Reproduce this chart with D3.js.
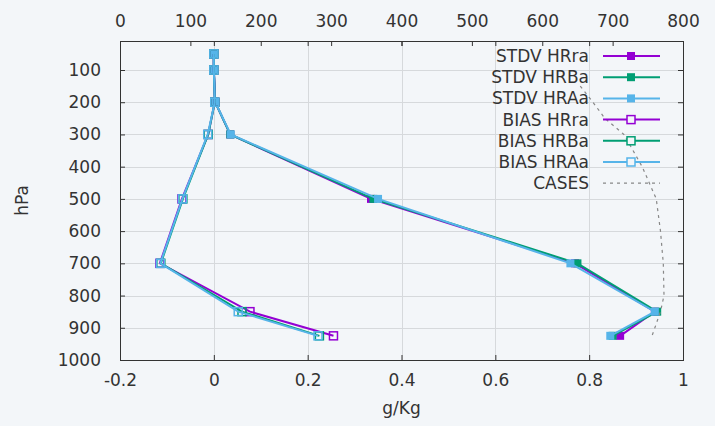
<!DOCTYPE html>
<html>
<head>
<meta charset="utf-8">
<script src="https://cdn.jsdelivr.net/npm/d3@7"></script>
<style>
  body { margin: 0; background: #f3f6f9; }
  text { font-family: "DejaVu Sans", sans-serif; fill: #333; }
</style>
</head>
<body>
<div id="chart"></div>
<script>
// pressure levels (hPa) for the error profiles
var levels = [50, 100, 200, 300, 500, 700, 850, 925];

var stdvHRra = [0.0, 0.0, 0.003, 0.035, 0.335, 0.770, 0.940, 0.866];
var stdvHRBa = [0.0, 0.0, 0.003, 0.035, 0.340, 0.775, 0.945, 0.850];
var stdvHRAa = [0.0, 0.0, 0.003, 0.036, 0.350, 0.760, 0.940, 0.845];
var biasHRra = [0.0, 0.0, 0.002, -0.012, -0.068, -0.115, 0.077, 0.255];
var biasHRBa = [0.0, 0.0, 0.002, -0.012, -0.066, -0.113, 0.060, 0.225];
var biasHRAa = [0.0, 0.0, 0.002, -0.013, -0.067, -0.114, 0.052, 0.222];

// number of cases per level (top axis)
var casesLevels = [150, 200, 250, 300, 400, 500, 600, 700, 800, 850, 900, 925];
var casesCount  = [654, 672, 689, 716, 742, 762, 768, 772, 773, 768, 760, 756];

var xTicks = [-0.2, 0, 0.2, 0.4, 0.6, 0.8, 1];
var x2Ticks = [0, 100, 200, 300, 400, 500, 600, 700, 800];
var yTicks = [100, 200, 300, 400, 500, 600, 700, 800, 900, 1000];

var seriesNames = ["STDV HRra", "STDV HRBa", "STDV HRAa", "BIAS HRra", "BIAS HRBa", "BIAS HRAa"];
var seriesColors = ["#9400d3", "#009e73", "#56b4e9", "#9400d3", "#009e73", "#56b4e9"];
var seriesValues = [stdvHRra, stdvHRBa, stdvHRAa, biasHRra, biasHRBa, biasHRAa];
var seriesFilled = [true, true, true, false, false, false];

var width = 715, height = 426;
var plot = { left: 120, right: 683, top: 41, bottom: 360 };

var svg = d3.select("#chart")
    .append("svg")
    .attr("width", width)
    .attr("height", height);

var x = d3.scaleLinear().domain([-0.2, 1]).range([plot.left, plot.right]);
var x2 = d3.scaleLinear().domain([0, 800]).range([plot.left, plot.right]);
var y = d3.scaleLinear().domain([10, 1000]).range([plot.top, plot.bottom]);

// grid
var grid = svg.append("g").attr("stroke", "#d6d9dc").attr("stroke-width", 1);
grid.selectAll(".gx")
    .data(xTicks.slice(1, -1))
    .enter().append("line")
    .attr("x1", function(d) { return Math.round(x(d)) + 0.5; })
    .attr("x2", function(d) { return Math.round(x(d)) + 0.5; })
    .attr("y1", plot.top).attr("y2", plot.bottom);
grid.selectAll(".gy")
    .data(yTicks.slice(0, -1))
    .enter().append("line")
    .attr("y1", function(d) { return Math.round(y(d)) + 0.5; })
    .attr("y2", function(d) { return Math.round(y(d)) + 0.5; })
    .attr("x1", plot.left).attr("x2", plot.right);

function styleAxis(g) {
    g.select(".domain").remove();
    g.selectAll(".tick line").attr("stroke", "#333");
    g.selectAll(".tick text").attr("font-size", "17px").attr("fill", "#333")
        .attr("font-family", "DejaVu Sans, sans-serif");
}
var fmt = function(d) { return String(d); };

svg.append("g")
    .attr("transform", "translate(0," + plot.bottom + ")")
    .call(d3.axisBottom(x).tickValues(xTicks).tickFormat(fmt).tickSizeInner(-5).tickSizeOuter(0).tickPadding(14))
    .call(styleAxis);
svg.append("g")
    .attr("transform", "translate(0," + plot.top + ")")
    .call(d3.axisTop(x).tickValues(xTicks).tickFormat("").tickSizeInner(-5).tickSizeOuter(0))
    .call(styleAxis);
svg.append("g")
    .attr("transform", "translate(0," + plot.top + ")")
    .call(d3.axisTop(x2).tickValues(x2Ticks).tickFormat(fmt).tickSizeInner(-5).tickSizeOuter(0).tickPadding(14))
    .call(styleAxis);
svg.append("g")
    .attr("transform", "translate(" + plot.left + ",0)")
    .call(d3.axisLeft(y).tickValues(yTicks).tickFormat(fmt).tickSizeInner(-5).tickSizeOuter(0).tickPadding(19))
    .call(styleAxis);
svg.append("g")
    .attr("transform", "translate(" + plot.right + ",0)")
    .call(d3.axisRight(y).tickValues(yTicks).tickFormat("").tickSizeInner(-5).tickSizeOuter(0))
    .call(styleAxis);

// border
svg.append("rect")
    .attr("x", plot.left + 0.5).attr("y", plot.top + 0.5)
    .attr("width", plot.right - plot.left).attr("height", plot.bottom - plot.top)
    .attr("fill", "none").attr("stroke", "#333").attr("stroke-width", 1);

// axis titles
svg.append("text")
    .attr("x", (plot.left + plot.right) / 2).attr("y", 414)
    .attr("text-anchor", "middle").attr("font-size", "17px")
    .text("g/Kg");
svg.append("text")
    .attr("transform", "translate(28," + ((plot.top + plot.bottom) / 2) + ") rotate(-90)")
    .attr("text-anchor", "middle").attr("font-size", "17px")
    .text("hPa");

// data lines
var line = d3.line()
    .x(function(d) { return x(d[0]); })
    .y(function(d) { return y(d[1]); });

var msize = 8;
seriesValues.forEach(function(vals, i) {
    var pts = vals.map(function(v, j) { return [v, levels[j]]; });
    var g = svg.append("g");
    g.append("path")
        .datum(pts)
        .attr("d", line)
        .attr("fill", "none")
        .attr("stroke", seriesColors[i])
        .attr("stroke-width", 2);
    g.selectAll("rect")
        .data(pts)
        .enter().append("rect")
        .attr("x", function(d) { return x(d[0]) - msize / 2; })
        .attr("y", function(d) { return y(d[1]) - msize / 2; })
        .attr("width", msize).attr("height", msize)
        .attr("fill", seriesFilled[i] ? seriesColors[i] : "none")
        .attr("stroke", seriesColors[i])
        .attr("stroke-width", seriesFilled[i] ? 0 : 1.5);
});

// cases profile on top axis
var casesPts = casesCount.map(function(c, j) { return [c, casesLevels[j]]; });
svg.append("path")
    .datum(casesPts)
    .attr("d", d3.line().x(function(d) { return x2(d[0]); }).y(function(d) { return y(d[1]); }))
    .attr("fill", "none")
    .attr("stroke", "#888")
    .attr("stroke-width", 1.2)
    .attr("stroke-dasharray", "3,4");

// legend
var legendNames = seriesNames.concat(["CASES"]);
var legend = svg.append("g");
legendNames.forEach(function(name, i) {
    var ly = 56 + i * 21.2;
    legend.append("text")
        .attr("x", 589).attr("y", ly).attr("dy", "0.35em")
        .attr("text-anchor", "end").attr("font-size", "17px")
        .text(name);
    if (i < seriesNames.length) {
        legend.append("line")
            .attr("x1", 603).attr("x2", 660).attr("y1", ly).attr("y2", ly)
            .attr("stroke", seriesColors[i]).attr("stroke-width", 2);
        legend.append("rect")
            .attr("x", 631 - msize / 2).attr("y", ly - msize / 2)
            .attr("width", msize).attr("height", msize)
            .attr("fill", seriesFilled[i] ? seriesColors[i] : "#f3f6f9")
            .attr("stroke", seriesColors[i])
            .attr("stroke-width", seriesFilled[i] ? 0 : 1.5);
    } else {
        legend.append("line")
            .attr("x1", 603).attr("x2", 660).attr("y1", ly).attr("y2", ly)
            .attr("stroke", "#888").attr("stroke-width", 1.2)
            .attr("stroke-dasharray", "3,4");
    }
});
</script>
</body>
</html>
